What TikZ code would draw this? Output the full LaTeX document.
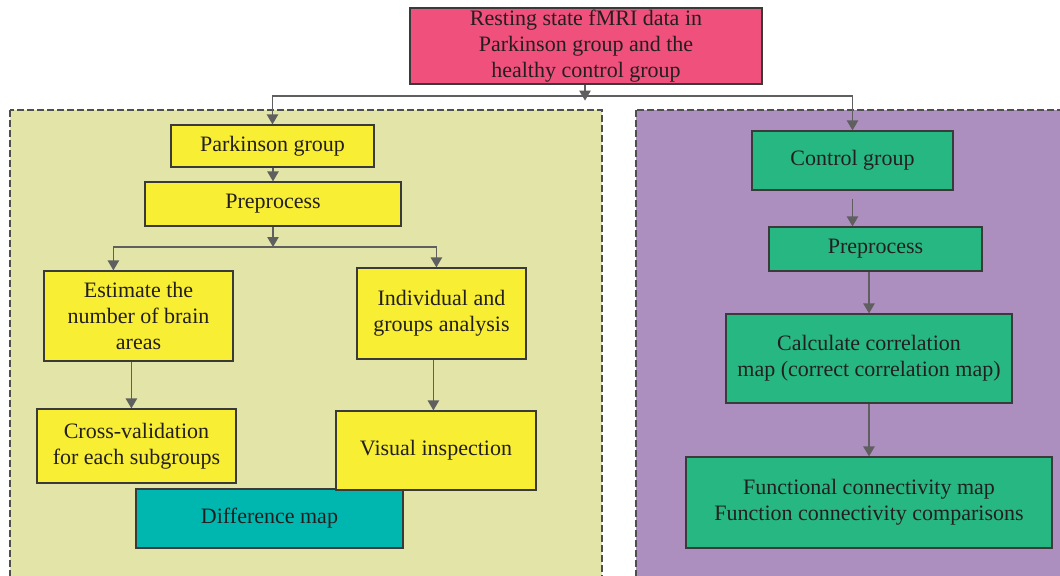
\documentclass[tikz,border=0pt]{standalone}
\usepackage{fontspec}
\setmainfont{Liberation Serif}
\usetikzlibrary{arrows.meta,calc}
\definecolor{cpink}{HTML}{F0507C}
\definecolor{cyel}{HTML}{F8EE33}
\definecolor{cleft}{HTML}{E2E4A8}
\definecolor{cpurp}{HTML}{AC8FBE}
\definecolor{cgreen}{HTML}{27B782}
\definecolor{cteal}{HTML}{00B7B0}
\definecolor{carr}{HTML}{5F5F5F}
\definecolor{cbord}{HTML}{3A3A3A}
\definecolor{ctext}{HTML}{231F20}
\tikzset{
  box/.style={draw=cbord, line width=0.9pt, inner sep=0pt, align=center, text=ctext,
    font=\fontsize{16.5}{19.5}\selectfont},
  pbox/.style={box, fill=cpink},
  ybox/.style={box, fill=cyel},
  gbox/.style={box, fill=cgreen},
  tbox/.style={box, fill=cteal},
  panel/.style={draw=cbord!90, line width=0.8pt, dash pattern=on 5pt off 2.5pt},
  arr/.style={draw=carr, line width=1.1pt, -{Triangle[width=8.5pt,length=7.5pt]}},
}
\begin{document}
\begin{tikzpicture}[x=0.75pt,y=-0.75pt]
\useasboundingbox (0,0) rectangle (1060,575);
\fill[white] (0,0) rectangle (1060,575);
% panels
\path[panel, fill=cleft] (10,110) rectangle (602,590);
\path[panel, fill=cpurp] (636,110) rectangle (1075,590);
% top
\node[pbox, minimum width=264pt, minimum height=57pt] (top) at (586,46) {Resting state fMRI data in\\Parkinson group and the\\healthy control group};
% left
\node[ybox, minimum width=152.25pt, minimum height=31.5pt] (pg) at (272.5,146) {Parkinson group};
\node[ybox, minimum width=192pt, minimum height=33pt] (pp) at (273,204) {Preprocess};
\node[ybox, minimum width=141.75pt, minimum height=67.5pt] (est) at (138.5,316) {Estimate the\\number of brain\\areas};
\node[ybox, minimum width=126.75pt, minimum height=68.25pt] (ind) at (441.5,313.5) {Individual and\\groups analysis};
\node[ybox, minimum width=149.25pt, minimum height=55.5pt] (cv) at (136.5,446) {Cross-validation\\for each subgroups};
\node[tbox, minimum width=200.25pt, minimum height=44.25pt] (dm) at (269.5,518.5) {Difference map};
\node[ybox, minimum width=150pt, minimum height=59.25pt] (vis) at (436,450.5) {Visual inspection};
% right
\node[gbox, minimum width=150.75pt, minimum height=44.25pt] (cg) at (852.5,160.5) {Control group};
\node[gbox, minimum width=159.75pt, minimum height=33pt] (cpp) at (875.5,249) {Preprocess};
\node[gbox, minimum width=214.5pt, minimum height=66.75pt] (calc) at (869,358.5) {Calculate correlation\\map (correct correlation map)};
\node[gbox, minimum width=274.5pt, minimum height=68.25pt] (func) at (869,502.5) {Functional connectivity map\\Function connectivity comparisons};
% connectors top
\coordinate (j1) at (585,96);
\draw[arr] (top.south -| j1) -- ++(0,16);
\draw[arr] (j1) -| (pg.north);
\draw[arr] (j1) -| (cg.north);
% left connectors
\draw[arr] (pp.north |- pg.south) -- (pp.north);
\coordinate (j2) at (273,247);
\draw[arr] (pp.south -| j2) -- (j2);
\draw[arr] (j2) -| ([xshift=52.5pt]est.north west);
\draw[arr] (j2) -| ([xshift=60pt]ind.north west);
\draw[arr] ([xshift=66pt]est.south west) -- ([xshift=66pt]est.south west |- cv.north);
\draw[arr] ([xshift=57.75pt]ind.south west) -- ([xshift=57.75pt]ind.south west |- vis.north);
% right connectors
\draw[arr] ([yshift=-6pt]cg.south) -- (cg.south |- cpp.north);
\draw[arr] (calc.north |- cpp.south) -- (calc.north);
\draw[arr] (calc.south) -- (func.north);
\end{tikzpicture}
\end{document}
